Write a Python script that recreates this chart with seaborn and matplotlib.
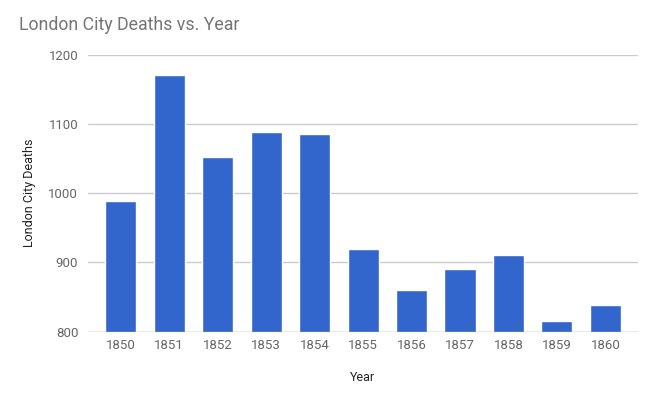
import pandas as pd
import matplotlib
matplotlib.use("Agg")
import matplotlib.pyplot as plt
import seaborn as sns

# values
years = ["1850", "1851", "1852", "1853", "1854", "1855", "1856", "1857", "1858", "1859", "1860"]
deaths = [988, 1171, 1052, 1088, 1085, 920, 860, 891, 910, 815, 838]
yticks = [800, 900, 1000, 1100, 1200]

df = pd.DataFrame({"Year": years, "Deaths": deaths})

sns.set_theme(style="white")
plt.rcParams["font.family"] = ["Roboto", "DejaVu Sans"]

fig = plt.figure(figsize=(6.5, 3.93), dpi=100)
ax = fig.add_axes([0.1354, 0.156, 0.846, 0.705])

sns.barplot(data=df, x="Year", y="Deaths", color="#3366cc", saturation=1,
            width=0.64, ax=ax, zorder=3)

ax.set_ylim(800, 1200)
ax.set_xlim(-0.674, 10.67)
ax.set_yticks(yticks)
ax.set_yticklabels([str(t) for t in yticks])
ax.yaxis.grid(True, color="#cccccc", linewidth=1, zorder=0)
ax.axhline(800, color="#bbbbbb", linewidth=1, zorder=4)
for s in ax.spines.values():
    s.set_visible(False)
ax.tick_params(axis="both", length=0, labelsize=9.5, labelcolor="#666666")
ax.tick_params(axis="y", pad=7)
ax.tick_params(axis="x", pad=5)

ax.set_xlabel("Year", fontsize=9, color="#222222", labelpad=14)
ax.set_ylabel("London City Deaths", fontsize=9, color="#222222", labelpad=9)

fig.text(0.029, 0.937, "London City Deaths vs. Year", fontsize=12.8,
         color="#757575", ha="left", va="center")

fig.savefig("out.png", dpi=100)
